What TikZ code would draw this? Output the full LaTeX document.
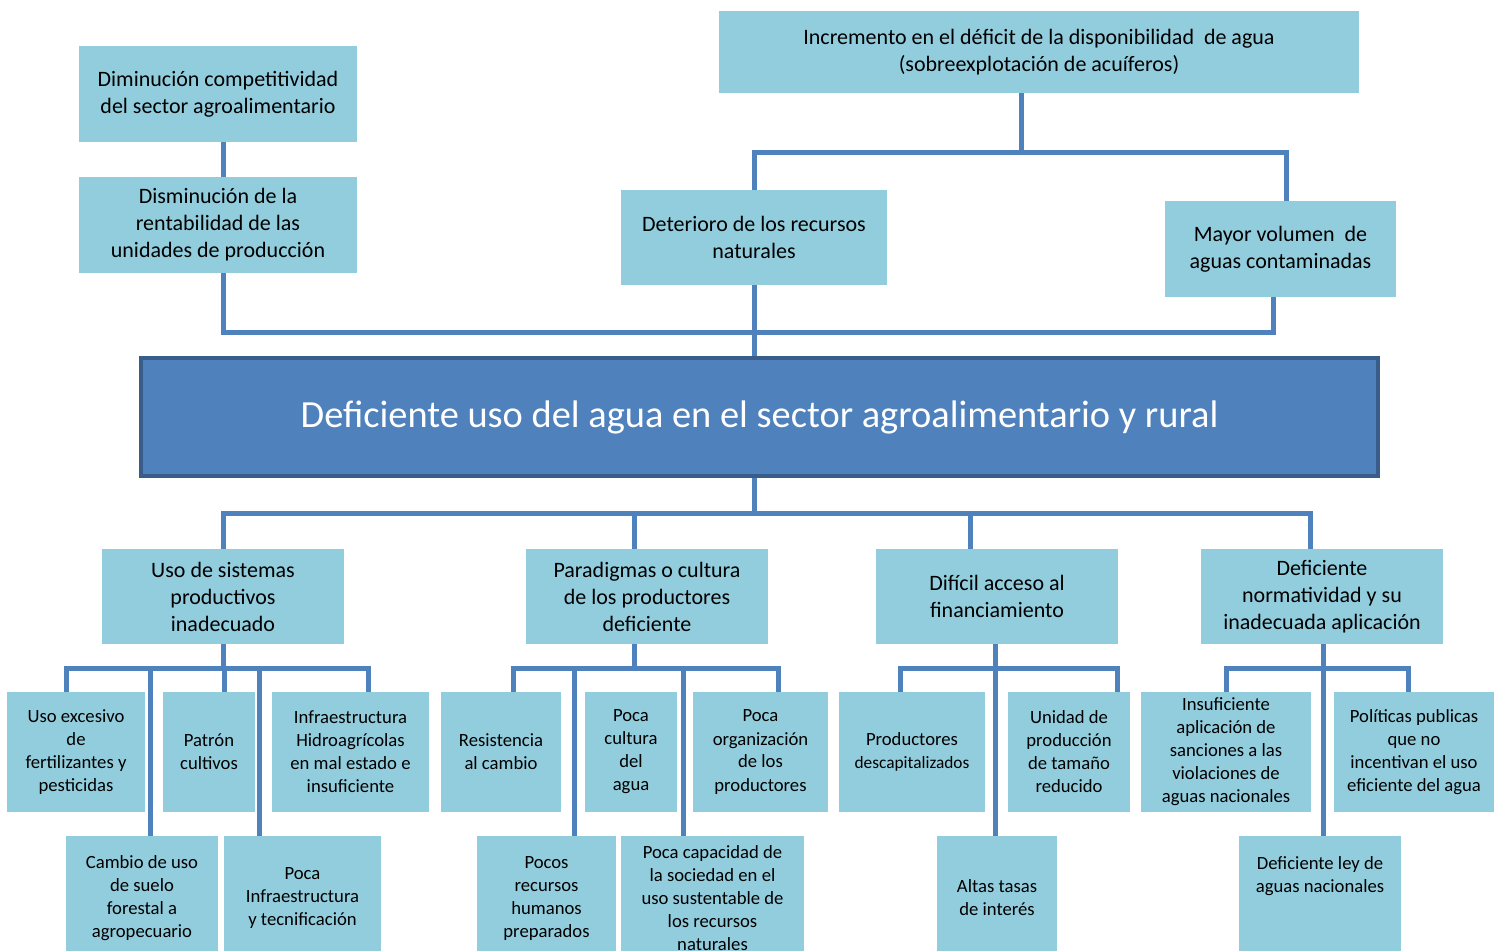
\documentclass[tikz,border=0pt]{standalone}
\usepackage{fontspec}
\setmainfont{Carlito}
\usetikzlibrary{calc}

\definecolor{boxblue}{RGB}{146,205,221}
\definecolor{linkblue}{RGB}{79,129,189}
\definecolor{mainedge}{RGB}{56,93,138}

\tikzset{
  wh/.style 2 args={minimum width=#1*0.75pt, minimum height=#2*0.75pt},
  box/.style={fill=boxblue, align=center, inner sep=0pt},
  topbox/.style={box, font=\fontsize{16.5}{20.25}\selectfont},
  leafbox/.style={box, font=\fontsize{14}{17.25}\selectfont},
  mainbox/.style={fill=linkblue, draw=mainedge, line width=2.4pt, text=white,
    inner sep=0pt, font=\fontsize{28.8}{34}\selectfont},
  link/.style={draw=linkblue, line width=3.75pt}
}

\begin{document}
\begin{tikzpicture}[x=0.75pt, y=-0.75pt]
  \useasboundingbox (0,0) rectangle (1494,950);
  \clip (0,0) rectangle (1494,950);

  % effects
  \node[topbox, wh={278}{96}] (A1) at (218,94) {Diminución competitividad\\del sector agroalimentario};
  \node[topbox, wh={278}{96}] (A2) at (218,225) {Disminución de la\\rentabilidad de las\\unidades de producción};
  \node[topbox, wh={640}{82}] (B) at (1039,52) {Incremento en el déficit de la disponibilidad\ \ de agua\\(sobreexplotación de acuíferos)};
  \node[topbox, wh={266}{95}] (C) at (754,237.5) {Deterioro de los recursos\\naturales};
  \node[topbox, wh={231}{96}] (D) at (1280.5,249) {Mayor volumen\ \ de\\aguas contaminadas};

  % central problem
  \node[mainbox, wh={1237}{118}] (M) at (759.5,417) {Deficiente uso del agua en el sector agroalimentario y rural};

  % causes
  \node[topbox, wh={242}{95}] (E1) at (223,596.5) {Uso de sistemas\\productivos\\inadecuado};
  \node[topbox, wh={242}{95}] (E2) at (647,596.5) {Paradigmas o cultura\\de los productores\\deficiente};
  \node[topbox, wh={242}{95}] (E3) at (997,596.5) {Difícil acceso al\\financiamiento};
  \node[topbox, wh={242}{95}] (E4) at (1322,596.5) {Deficiente\\normatividad y su\\inadecuada aplicación};

  \node[leafbox, wh={138}{120}] (L11) at (76,752) {Uso excesivo\\de\\fertilizantes y\\pesticidas};
  \node[leafbox, wh={92}{120}] (L12) at (209,752) {Patrón\\cultivos};
  \node[leafbox, wh={157}{120}] (L13) at (350.5,752) {Infraestructura\\Hidroagrícolas\\en mal estado e\\insuficiente};
  \node[leafbox, wh={152}{124}] (L14) at (142,898) {Cambio de uso\\de suelo\\forestal a\\agropecuario};
  \node[leafbox, wh={157}{124}] (L15) at (302.5,898) {Poca\\Infraestructura\\y tecnificación};

  \node[leafbox, wh={120}{120}] (L21) at (501,752) {Resistencia\\al cambio};
  \node[leafbox, wh={92}{120}] (L22) at (631,752) {Poca\\cultura\\del\\agua};
  \node[leafbox, wh={135}{120}] (L23) at (760.5,752) {Poca\\organización\\de los\\productores};
  \node[leafbox, wh={139}{124}] (L24) at (546.5,898) {Pocos\\recursos\\humanos\\preparados};
  \node[leafbox, wh={183}{124}] (L25) at (712.5,898) {Poca capacidad de\\la sociedad en el\\uso sustentable de\\los recursos\\naturales};

  \node[leafbox, wh={146}{120}] (L31) at (912,752) {Productores\\{\fontsize{13}{17.25}\selectfont descapitalizados}};
  \node[leafbox, wh={122}{120}] (L32) at (1069,752) {Unidad de\\producción\\de tamaño\\reducido};
  \node[leafbox, wh={120}{124}] (L33) at (997,898) {Altas tasas\\de interés};

  \node[leafbox, wh={170}{120}] (L41) at (1226,752) {Insuficiente\\aplicación de\\sanciones a las\\violaciones de\\aguas nacionales};
  \node[leafbox, wh={160}{120}] (L42) at (1414,752) {Políticas publicas\\que no\\incentivan el uso\\eficiente del agua};
  \node[leafbox, wh={162}{124}] (L43) at (1320,898) {Deficiente ley de\\aguas nacionales\\~\\~};

  % upper connectors
  \draw[link] ($(A1.south)+(5,0)$) -- ($(A2.north)+(5,0)$);
  \draw[link] ($(B.south)+(-18,0)$) -- ++(0,59) coordinate (bt);
  \draw[link] (C.north) |- (bt);
  \draw[link] ($(D.north)+(5.5,0)$) |- (bt);
  \coordinate (ml) at ($(C.south)+(0,47)$);
  \draw[link] (C.south) -- (C.south |- M.north);
  \draw[link] ($(A2.south)+(5,0)$) |- (ml);
  \draw[link] ($(D.south)+(-7.5,0)$) |- (ml);

  % lower connectors
  \draw[link] (M.south -| C.south) -- ++(0,36) coordinate (mb);
  \draw[link] (E1.north) |- (mb);
  \draw[link] ($(E2.north)+(-13,0)$) |- (mb);
  \draw[link] ($(E3.north)+(-27,0)$) |- (mb);
  \draw[link] ($(E4.north)+(-12,0)$) |- (mb);

  \draw[link] (E1.south) -- ++(0,24) coordinate (g1);
  \draw[link] ($(L11.north)+(-10,0)$) |- (g1);
  \draw[link] ($(L12.north)+(15,0)$) |- (g1);
  \draw[link] ($(L13.north)+(17.5,0)$) |- (g1);
  \draw[link] ($(L14.north)+(8,0)$) |- (g1);
  \draw[link] ($(L15.north)+(-43.5,0)$) |- (g1);

  \draw[link] ($(E2.south)+(-13,0)$) -- ++(0,24) coordinate (g2);
  \draw[link] ($(L21.north)+(12,0)$) |- (g2);
  \draw[link] ($(L23.north)+(17.5,0)$) |- (g2);
  \draw[link] ($(L24.north)+(27.5,0)$) |- (g2);
  \draw[link] ($(L25.north)+(-29.5,0)$) |- (g2);

  \draw[link] ($(E3.south)+(-2,0)$) -- ++(0,24) coordinate (g3);
  \draw[link] ($(L31.north)+(-12,0)$) |- (g3);
  \draw[link] ($(L32.north)+(48,0)$) |- (g3);
  \draw[link] ($(L33.north)+(-2,0)$) |- (g3);

  \draw[link] ($(E4.south)+(1,0)$) -- ++(0,24) coordinate (g4);
  \draw[link] (L41.north) |- (g4);
  \draw[link] ($(L42.north)+(-6,0)$) |- (g4);
  \draw[link] ($(L43.north)+(3,0)$) |- (g4);
\end{tikzpicture}
\end{document}
